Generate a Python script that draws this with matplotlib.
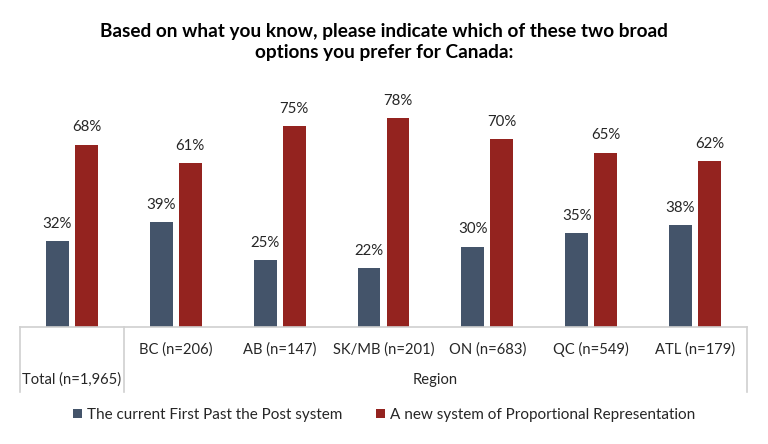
import matplotlib
matplotlib.use('Agg')
import matplotlib.pyplot as plt
import numpy as np

plt.rcParams['font.family'] = ['Lato', 'DejaVu Sans']

categories = ['Total (n=1,965)', 'BC (n=206)', 'AB (n=147)', 'SK/MB (n=201)',
              'ON (n=683)', 'QC (n=549)', 'ATL (n=179)']
fptp = [32, 39, 25, 22, 30, 35, 38]
pr = [68, 61, 75, 78, 70, 65, 62]
series_names = ['The current First Past the Post system',
                'A new system of Proportional Representation']
title = 'Based on what you know, please indicate which of these two broad\noptions you prefer for Canada:'

blue = '#44546a'
red = '#94231f'
line_col = '#d0d0d0'

fig = plt.figure(figsize=(7.68, 4.44), dpi=100)
ax = fig.add_axes([20 / 768, 117 / 444, 727 / 768, 232 / 444])

x = np.arange(len(categories))
w = 0.22
off = 0.14
b1 = ax.bar(x - off, fptp, w, color=blue, label=series_names[0])
b2 = ax.bar(x + off, pr, w, color=red, label=series_names[1])

for bars in (b1, b2):
    for bar in bars:
        h = bar.get_height()
        ax.text(bar.get_x() + bar.get_width() / 2, h + 3.8, f'{int(h)}%',
                ha='center', va='bottom', fontsize=10.8, color='#262626')

ax.set_xlim(-0.5, len(categories) - 0.5)
ax.set_ylim(0, 86.5)
ax.set_xticks([])
ax.set_yticks([])
for s in ax.spines.values():
    s.set_visible(False)

# grouped category axis drawn as table lines
tr = ax.get_xaxis_transform()
ax.plot([-0.5, len(categories) - 0.5], [0, 0], color=line_col, lw=1.2, transform=tr, clip_on=False)
for xv in (-0.5, 0.5, len(categories) - 0.5):
    ax.plot([xv, xv], [0, -0.28], color=line_col, lw=1.2, transform=tr, clip_on=False)

for i, c in enumerate(categories[1:], start=1):
    ax.text(i, -0.099, c, transform=tr, ha='center', va='center', fontsize=10.6, color='#262626')
ax.text(0, -0.228, categories[0], transform=tr, ha='center', va='center', fontsize=10.6, color='#262626')
ax.text((1 + len(categories) - 1) / 2, -0.228, 'Region', transform=tr, ha='center', va='center',
        fontsize=10.6, color='#262626')

fig.text(0.5, 0.905, title, ha='center', va='center', fontsize=13.7, fontweight='bold',
         color='#000000', linespacing=1.3)

fig.legend(loc='center', bbox_to_anchor=(0.5, 29 / 444), ncol=2, frameon=False, fontsize=11,
           handlelength=0.6, handleheight=0.6, handletextpad=0.3, columnspacing=2.2,
           labelcolor='#262626')

plt.savefig('out.png', dpi=100)
